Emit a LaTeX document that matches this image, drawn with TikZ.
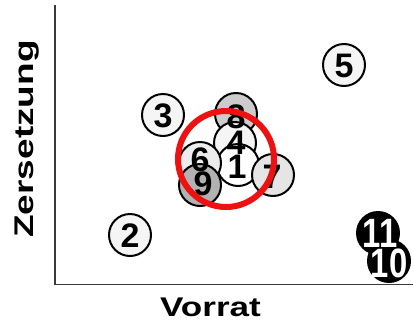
\documentclass[tikz,border=0pt]{standalone}
\usepackage{fontspec}
\setmainfont{Liberation Sans}
\definecolor{axisgray}{HTML}{3A3A3A}
\definecolor{redring}{HTML}{EE1111}
\tikzset{
  dot/.style={circle, draw=black, line width=2pt, minimum size=42pt, inner sep=0pt},
  dig/.style={font=\fontsize{34}{34}\selectfont\bfseries, inner sep=0pt},
  bigdig/.style={font=\fontsize{41}{41}\selectfont\bfseries, inner sep=0pt, text=white},
  axlabel/.style={font=\fontsize{27}{27}\selectfont\bfseries, inner sep=0pt},
}
\begin{document}
\begin{tikzpicture}[x=1pt,y=-1pt]
\useasboundingbox (0,0) rectangle (414,327);
\fill[white] (0,0) rectangle (414,327);
% axes
\coordinate (ytop) at (55,5);
\coordinate (orig) at (55,284.5);
\coordinate (xend) at (413,284.5);
\draw[axisgray, line width=1.5pt] (ytop) -- (orig) -- (xend);
% axis labels
\node[axlabel, anchor=base] (xl) at (210.5,316.5) {\scalebox{1.3}[1]{Vorrat}};
\node[axlabel, anchor=base, rotate=90] (yl) at (33.5,139) {\scalebox{1.37}[1]{Zersetzung}};
% circles
\node[dot, fill=gray!8] (c2) at (130,235) {};
\node[dot, fill=gray!8] (c3) at (163,115) {};
\node[dot, fill=gray!8] (c5) at (344,65) {};
\node[dot, fill=gray!40] (c8) at (236,114) {};
\node[dot, fill=gray!8] (c4) at (235,143) {};
\node[dot, fill=white] (c1) at (238,165) {};
\node[dot, fill=gray!15] (c6) at (200,163) {};
\node[dot, fill=gray!60] (c9) at (200,185) {};
\node[dot, fill=gray!20] (c7) at (273,175) {};
\node[dot, fill=black] (c11) at (378,233) {};
\node[dot, fill=black] (c10) at (389,261) {};
% labels
\node[dig] (l2) at (130,236) {2};
\node[dig] (l3) at (163,116) {3};
\node[dig] (l5) at (344,66) {5};
\node[dig] (l8) at (236,117) {8};
\node[dig] (l4) at (236,143) {4};
\node[dig] (l1) at (237,167) {1};
\node[dig] (l6) at (200,160) {6};
\node[dig] (l9) at (203,184) {9};
\node[dig] (l7) at (272,177) {7};
\node[bigdig] (l11) at (380,233) {\scalebox{0.8}[1]{11}};
\node[bigdig] (l10) at (389,263) {\scalebox{0.8}[1]{10}};
% red ring
\node[circle, draw=redring, line width=6pt, minimum size=96pt, inner sep=0pt] (ring) at (226,159) {};
\end{tikzpicture}
\end{document}
